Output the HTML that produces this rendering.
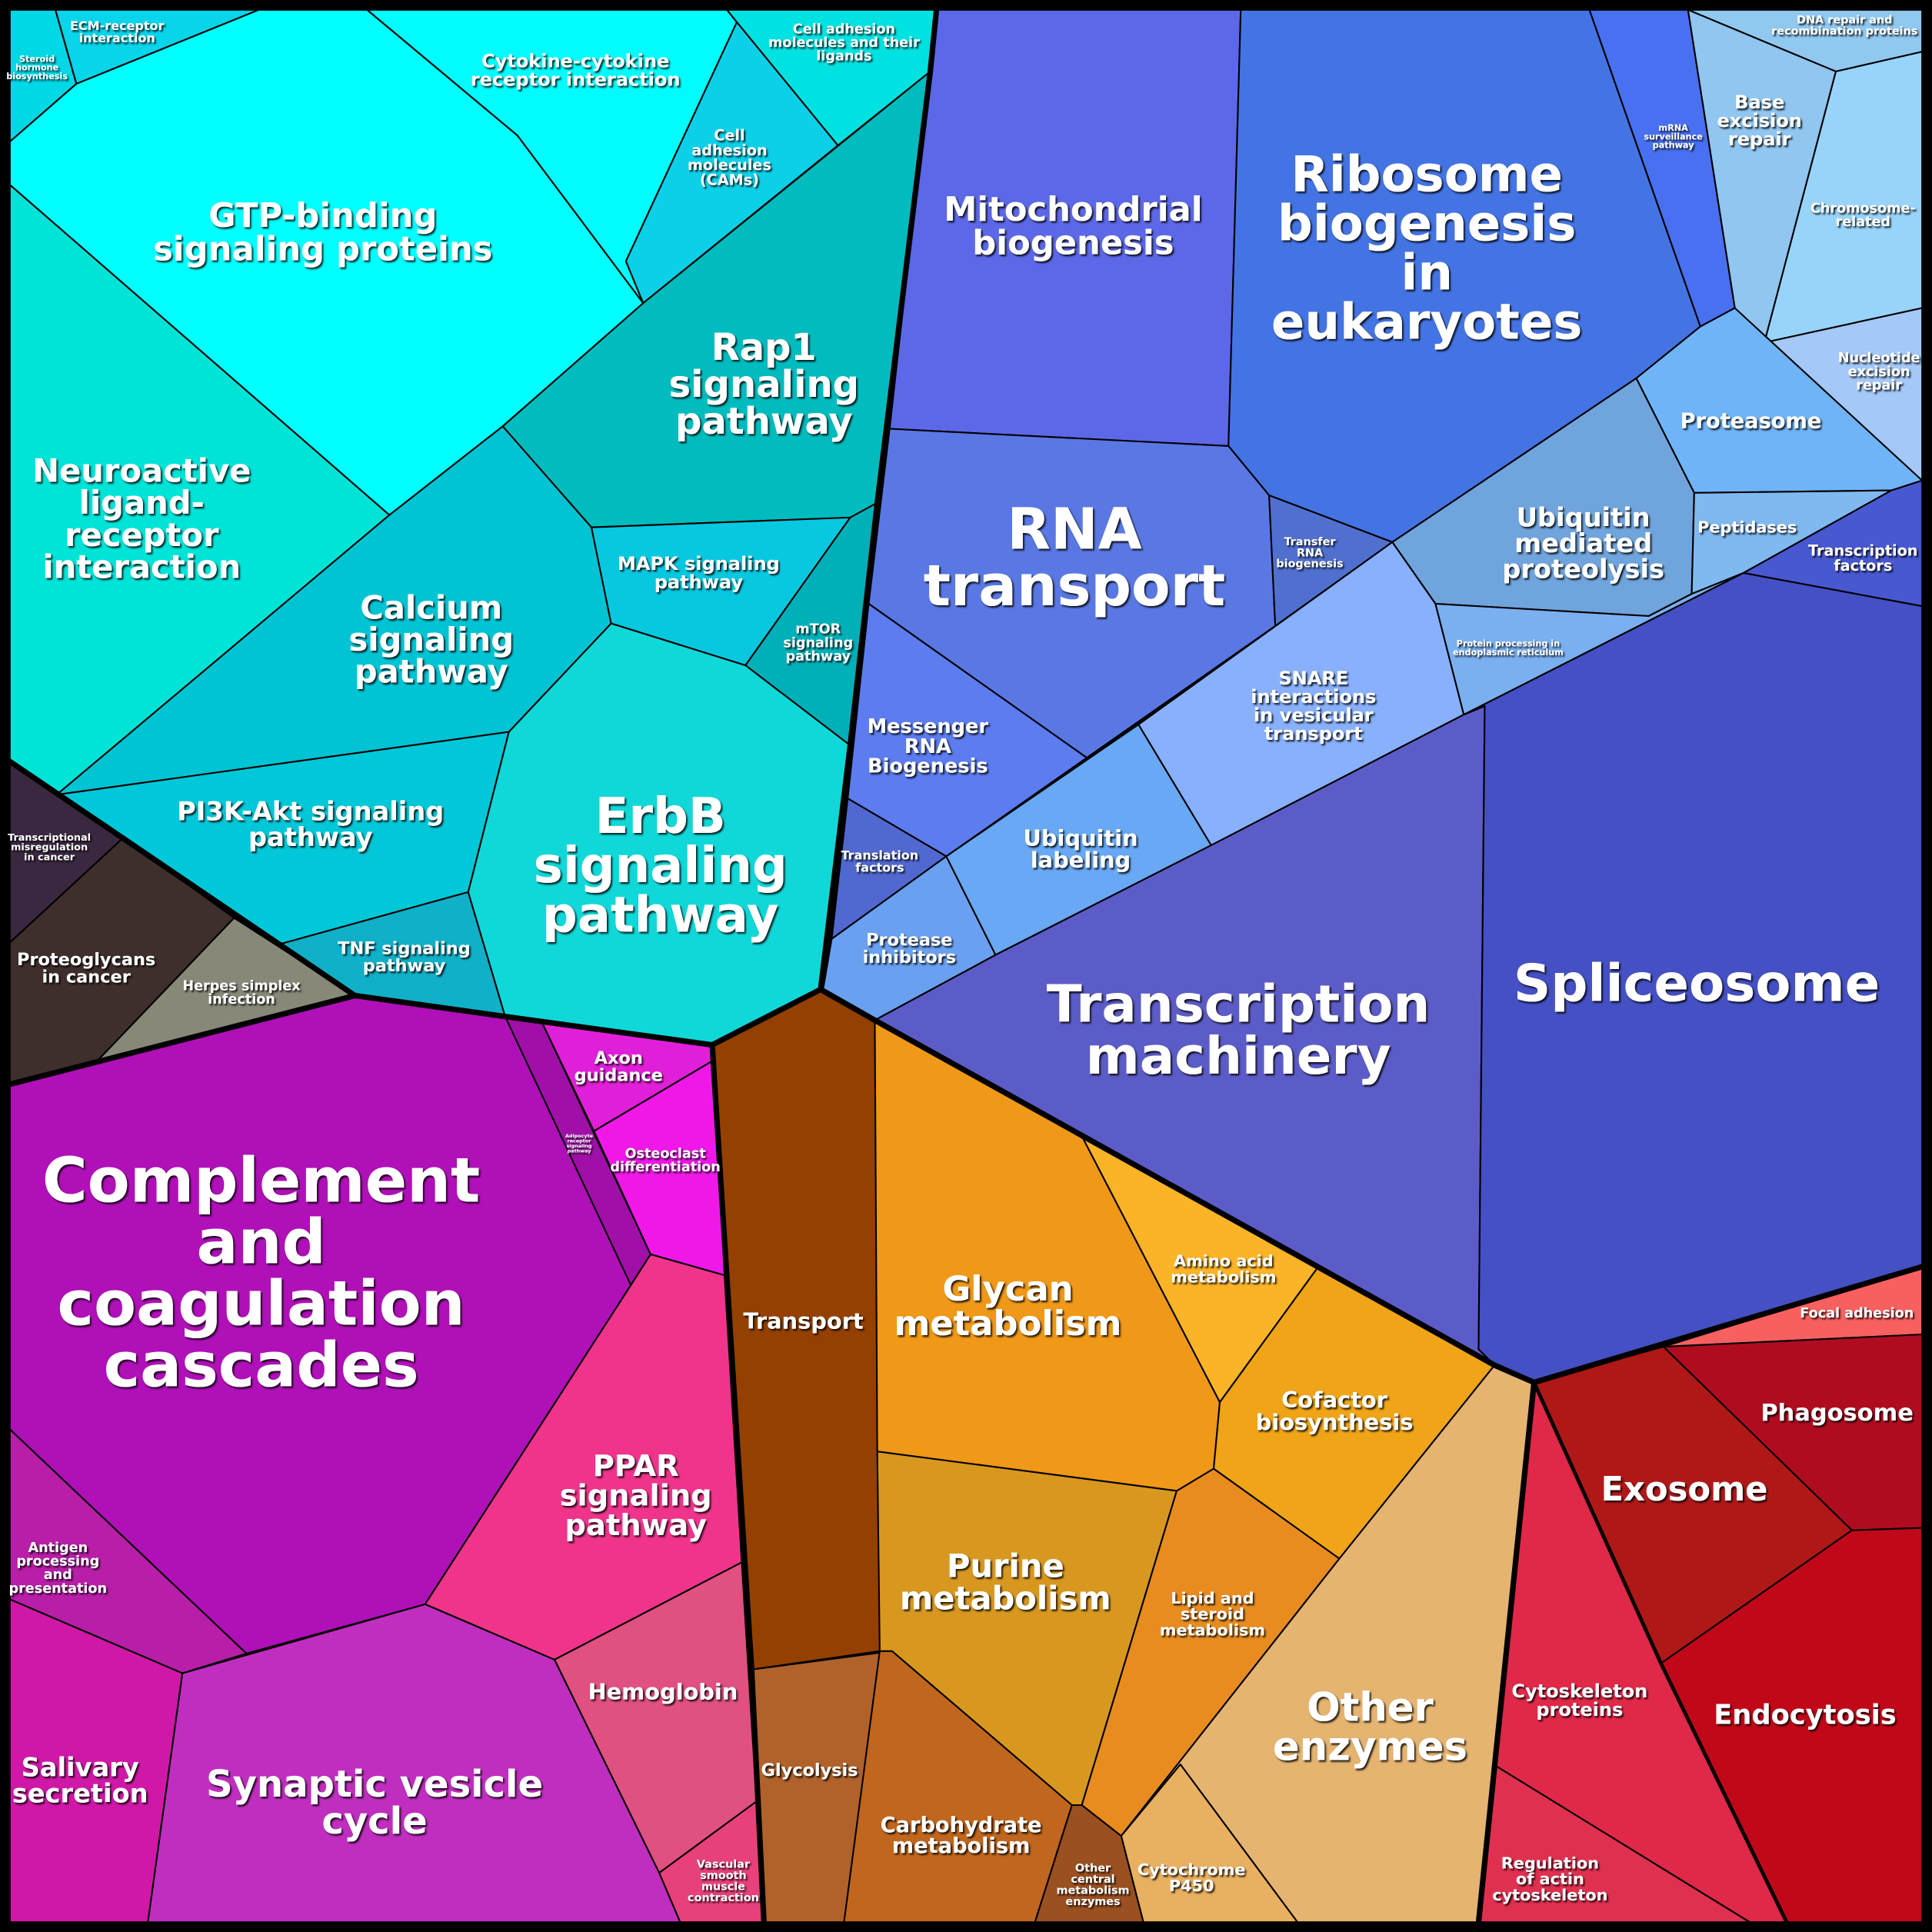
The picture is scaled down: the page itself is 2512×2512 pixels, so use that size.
<!DOCTYPE html>
<html><head><meta charset="utf-8"><style>
html,body{margin:0;padding:0;background:#000;}
svg{display:block;}
text{font-family:"DejaVu Sans","Liberation Sans",sans-serif;font-weight:bold;fill:#fff;text-anchor:middle;}
tspan{dominant-baseline:central;}
polygon{stroke:#000;stroke-width:1.3;stroke-linejoin:round;}
.g{fill:none;stroke:#000;stroke-width:4.5;stroke-linejoin:round;stroke-linecap:round;}
</style></head><body>
<svg width="2512" height="2512" viewBox="0 0 1568 1568" xmlns="http://www.w3.org/2000/svg">
<defs><filter id="sh" x="-10%" y="-10%" width="120%" height="130%"><feDropShadow dx="1.2" dy="1.4" stdDeviation="0.6" flood-color="#000" flood-opacity="0.85"/></filter></defs>
<rect width="1568" height="1568" fill="#000"/>
<!-- cyan group -->
<polygon fill="#00d8e6" points="8,8 45,8 62,68 8,115"/>
<polygon fill="#08d4ea" points="45,8 210,8 62,68"/>
<polygon fill="#00ffff" points="62,68 210,8 298,8 420,110 522,246 408,346 316,418 8,150 8,115"/>
<polygon fill="#00fcfc" points="298,8 590,8 598,18 508,212 522,246 420,110"/>
<polygon fill="#00e2e2" points="590,8 760,8 755,58 680,118 598,18"/>
<polygon fill="#0cd0e8" points="598,18 680,118 522,246 508,212"/>
<polygon fill="#00e4d8" points="8,150 316,418 46,645 8,618"/>
<polygon fill="#00bcbe" points="522,246 755,58 712,408 690,420 480,428 408,346"/>
<polygon fill="#00c4d4" points="408,346 480,428 496,506 413,594 46,645 316,418"/>
<polygon fill="#08c8e0" points="480,428 690,420 605,540 496,506"/>
<polygon fill="#00b0b8" points="690,420 712,408 690,605 605,540"/>
<polygon fill="#00c8d8" points="46,645 413,594 380,724 228,766"/>
<polygon fill="#10b0c8" points="228,766 380,724 410,825 288,808"/>
<polygon fill="#10d8d8" points="413,594 496,506 605,540 690,605 666,803 578,848 440,830 410,825 380,724"/>
<!-- dark group -->
<polygon fill="#3a2840" points="8,618 100,680 8,765"/>
<polygon fill="#3e2e2c" points="8,765 100,680 190,745 78,862 8,880"/>
<polygon fill="#888878" points="190,745 288,808 78,862"/>
<!-- purple group -->
<polygon fill="#b010b8" points="8,880 78,862 288,808 410,825 512,1043 345,1302 200,1342 8,1160"/>
<polygon fill="#a010a8" points="410,825 440,830 528,1018 512,1043"/>
<polygon fill="#e020d8" points="440,830 578,848 580,860 482,918"/>
<polygon fill="#f018e8" points="482,918 580,860 588,1035 528,1018"/>
<polygon fill="#f0348c" points="528,1018 588,1035 602,1268 450,1347 345,1302 512,1043"/>
<polygon fill="#e05080" points="450,1347 602,1268 614,1462 535,1520"/>
<polygon fill="#e8407a" points="535,1520 614,1462 620,1560 552,1560"/>
<polygon fill="#c02ec0" points="148,1358 345,1302 450,1347 535,1520 552,1560 120,1560"/>
<polygon fill="#b81ea8" points="8,1160 200,1342 148,1358 8,1298"/>
<polygon fill="#d018a8" points="8,1298 148,1358 120,1560 8,1560"/>
<!-- orange group -->
<polygon fill="#944000" points="578,848 666,803 710,828 714,1340 610,1355"/>
<polygon fill="#b0622a" points="610,1355 724,1340 685,1560 620,1560"/>
<polygon fill="#c0661e" points="714,1340 724,1340 870,1465 840,1560 685,1560"/>
<polygon fill="#9a5020" points="870,1465 878,1465 910,1490 928,1560 840,1560"/>
<polygon fill="#f09818" points="710,828 878,922 990,1138 985,1192 955,1210 712,1178"/>
<polygon fill="#fbb428" points="878,922 1070,1028 990,1138"/>
<polygon fill="#f0a418" points="990,1138 1070,1028 1213,1108 1087,1265 985,1192"/>
<polygon fill="#d89820" points="712,1178 955,1210 878,1465 870,1465 724,1340 714,1340"/>
<polygon fill="#e88c20" points="955,1210 985,1192 1087,1265 910,1490 878,1465"/>
<polygon fill="#e4b470" points="1213,1108 1245,1122 1200,1560 1053,1560 958,1432 910,1490 1087,1265"/>
<polygon fill="#e8b060" points="958,1432 1053,1560 928,1560 910,1490"/>
<!-- blue group -->
<polygon fill="#5c68e8" points="760,8 1007,8 997,362 722,348"/>
<polygon fill="#4474e4" points="1007,8 1290,8 1380,265 1328,307 1130,440 1030,402 997,362"/>
<polygon fill="#4870f0" points="1290,8 1370,8 1408,250 1380,265"/>
<polygon fill="#90c8f0" points="1370,8 1560,8 1560,42 1490,58"/>
<polygon fill="#90c6f0" points="1370,8 1490,58 1432,278 1408,250"/>
<polygon fill="#98d4fa" points="1490,58 1560,42 1560,250 1432,278"/>
<polygon fill="#a4c8f8" points="1432,278 1560,250 1560,390"/>
<polygon fill="#70b4f8" points="1380,265 1408,250 1560,390 1535,398 1375,400 1328,307"/>
<polygon fill="#5a78e4" points="722,348 997,362 1030,402 1035,508 882,615 705,490"/>
<polygon fill="#5070d0" points="1030,402 1130,440 1035,508"/>
<polygon fill="#70a4dc" points="1130,440 1328,307 1375,400 1373,482 1338,500 1165,490"/>
<polygon fill="#80b8f0" points="1375,400 1535,398 1415,465 1373,482"/>
<polygon fill="#4858d0" points="1535,398 1560,390 1560,492 1415,465"/>
<polygon fill="#5c7cf0" points="705,490 882,615 768,695 688,648"/>
<polygon fill="#5068d0" points="688,648 768,695 675,762"/>
<polygon fill="#6aa0f0" points="675,762 768,695 808,775 710,828 668,803"/>
<polygon fill="#68a8f4" points="768,695 924,588 983,686 808,775"/>
<polygon fill="#88b0fc" points="924,588 1130,440 1165,490 1188,580 983,686"/>
<polygon fill="#7ab0f0" points="1165,490 1338,500 1373,482 1415,465 1188,580"/>
<polygon fill="#5c5cc8" points="710,828 808,775 983,686 1188,580 1205,573 1200,1095 1213,1108"/>
<polygon fill="#4450c4" points="1188,580 1415,465 1560,492 1560,1028 1245,1122 1213,1108 1200,1095 1205,573"/>
<!-- red group -->
<polygon fill="#f86060" points="1350,1093 1560,1028 1560,1083"/>
<polygon fill="#b00c20" points="1350,1093 1560,1083 1560,1240 1503,1242"/>
<polygon fill="#b01818" points="1245,1122 1350,1093 1503,1242 1348,1350"/>
<polygon fill="#e02848" points="1245,1122 1348,1350 1450,1560 1420,1560 1212,1432"/>
<polygon fill="#e03050" points="1212,1432 1420,1560 1200,1560"/>
<polygon fill="#c00818" points="1348,1350 1503,1242 1560,1240 1560,1560 1450,1560"/>
<!-- group boundaries -->
<polyline class="g" points="760,8 755,58 712,408 690,605 666,803"/>
<polyline class="g" points="8,618 288,808 8,880"/>
<polyline class="g" points="288,808 410,825 578,848 666,803 710,828"/>
<polyline class="g" points="578,848 610,1355 620,1560"/>
<polyline class="g" points="710,828 1213,1108 1245,1122 1560,1028"/>
<polyline class="g" points="1245,1122 1200,1560"/>
<polyline class="g" style="stroke-width:3" points="1245,1122 1348,1350 1450,1560"/>
<rect x="4" y="4" width="1560" height="1560" fill="none" stroke="#000" stroke-width="8"/>
<g filter="url(#sh)">
<text font-size="7" y="48"><tspan x="30" dy="0">Steroid</tspan><tspan x="30" dy="1em">hormone</tspan><tspan x="30" dy="1em">biosynthesis</tspan></text>
<text font-size="10" y="21"><tspan x="95" dy="0">ECM-receptor</tspan><tspan x="95" dy="1em">interaction</tspan></text>
<text font-size="15" y="49.5"><tspan x="467" dy="0">Cytokine-cytokine</tspan><tspan x="467" dy="1em">receptor interaction</tspan></text>
<text font-size="11" y="24"><tspan x="685" dy="0">Cell adhesion</tspan><tspan x="685" dy="1em">molecules and their</tspan><tspan x="685" dy="1em">ligands</tspan></text>
<text font-size="12" y="110"><tspan x="592" dy="0">Cell</tspan><tspan x="592" dy="1em">adhesion</tspan><tspan x="592" dy="1em">molecules</tspan><tspan x="592" dy="1em">(CAMs)</tspan></text>
<text font-size="27" y="175.5"><tspan x="262" dy="0">GTP-binding</tspan><tspan x="262" dy="1em">signaling proteins</tspan></text>
<text font-size="26" y="382"><tspan x="115" dy="0">Neuroactive</tspan><tspan x="115" dy="1em">ligand-</tspan><tspan x="115" dy="1em">receptor</tspan><tspan x="115" dy="1em">interaction</tspan></text>
<text font-size="30" y="282"><tspan x="620" dy="0">Rap1</tspan><tspan x="620" dy="1em">signaling</tspan><tspan x="620" dy="1em">pathway</tspan></text>
<text font-size="26" y="493"><tspan x="350" dy="0">Calcium</tspan><tspan x="350" dy="1em">signaling</tspan><tspan x="350" dy="1em">pathway</tspan></text>
<text font-size="15" y="457.5"><tspan x="567" dy="0">MAPK signaling</tspan><tspan x="567" dy="1em">pathway</tspan></text>
<text font-size="11" y="511"><tspan x="664" dy="0">mTOR</tspan><tspan x="664" dy="1em">signaling</tspan><tspan x="664" dy="1em">pathway</tspan></text>
<text font-size="21" y="658.5"><tspan x="252" dy="0">PI3K-Akt signaling</tspan><tspan x="252" dy="1em">pathway</tspan></text>
<text font-size="14" y="770"><tspan x="328" dy="0">TNF signaling</tspan><tspan x="328" dy="1em">pathway</tspan></text>
<text font-size="40" y="663"><tspan x="536" dy="0">ErbB</tspan><tspan x="536" dy="1em">signaling</tspan><tspan x="536" dy="1em">pathway</tspan></text>
<text font-size="8" y="680"><tspan x="40" dy="0">Transcriptional</tspan><tspan x="40" dy="1em">misregulation</tspan><tspan x="40" dy="1em">in cancer</tspan></text>
<text font-size="14" y="779"><tspan x="70" dy="0">Proteoglycans</tspan><tspan x="70" dy="1em">in cancer</tspan></text>
<text font-size="11" y="800.5"><tspan x="196" dy="0">Herpes simplex</tspan><tspan x="196" dy="1em">infection</tspan></text>
<text font-size="50" y="958"><tspan x="212" dy="0">Complement</tspan><tspan x="212" dy="1em">and</tspan><tspan x="212" dy="1em">coagulation</tspan><tspan x="212" dy="1em">cascades</tspan></text>
<text font-size="4" y="922"><tspan x="470" dy="0">Adipocyte</tspan><tspan x="470" dy="1em">receptor</tspan><tspan x="470" dy="1em">signaling</tspan><tspan x="470" dy="1em">pathway</tspan></text>
<text font-size="14" y="859"><tspan x="502" dy="0">Axon</tspan><tspan x="502" dy="1em">guidance</tspan></text>
<text font-size="11" y="936.5"><tspan x="540" dy="0">Osteoclast</tspan><tspan x="540" dy="1em">differentiation</tspan></text>
<text font-size="24" y="1190"><tspan x="516" dy="0">PPAR</tspan><tspan x="516" dy="1em">signaling</tspan><tspan x="516" dy="1em">pathway</tspan></text>
<text font-size="18" y="1373"><tspan x="538" dy="0">Hemoglobin</tspan></text>
<text font-size="9" y="1513.5"><tspan x="587" dy="0">Vascular</tspan><tspan x="587" dy="1em">smooth</tspan><tspan x="587" dy="1em">muscle</tspan><tspan x="587" dy="1em">contraction</tspan></text>
<text font-size="11" y="1256.5"><tspan x="47" dy="0">Antigen</tspan><tspan x="47" dy="1em">processing</tspan><tspan x="47" dy="1em">and</tspan><tspan x="47" dy="1em">presentation</tspan></text>
<text font-size="21" y="1434.5"><tspan x="65" dy="0">Salivary</tspan><tspan x="65" dy="1em">secretion</tspan></text>
<text font-size="30" y="1448"><tspan x="304" dy="0">Synaptic vesicle</tspan><tspan x="304" dy="1em">cycle</tspan></text>
<text font-size="18" y="1072"><tspan x="652" dy="0">Transport</tspan></text>
<text font-size="14" y="1437"><tspan x="657" dy="0">Glycolysis</tspan></text>
<text font-size="17" y="1481.5"><tspan x="780" dy="0">Carbohydrate</tspan><tspan x="780" dy="1em">metabolism</tspan></text>
<text font-size="9" y="1516.5"><tspan x="887" dy="0">Other</tspan><tspan x="887" dy="1em">central</tspan><tspan x="887" dy="1em">metabolism</tspan><tspan x="887" dy="1em">enzymes</tspan></text>
<text font-size="28" y="1046"><tspan x="818" dy="0">Glycan</tspan><tspan x="818" dy="1em">metabolism</tspan></text>
<text font-size="13" y="1023.5"><tspan x="993" dy="0">Amino acid</tspan><tspan x="993" dy="1em">metabolism</tspan></text>
<text font-size="18" y="1136"><tspan x="1083" dy="0">Cofactor</tspan><tspan x="1083" dy="1em">biosynthesis</tspan></text>
<text font-size="26" y="1271"><tspan x="816" dy="0">Purine</tspan><tspan x="816" dy="1em">metabolism</tspan></text>
<text font-size="13" y="1297"><tspan x="984" dy="0">Lipid and</tspan><tspan x="984" dy="1em">steroid</tspan><tspan x="984" dy="1em">metabolism</tspan></text>
<text font-size="32" y="1386"><tspan x="1112" dy="0">Other</tspan><tspan x="1112" dy="1em">enzymes</tspan></text>
<text font-size="13" y="1517.5"><tspan x="967" dy="0">Cytochrome</tspan><tspan x="967" dy="1em">P450</tspan></text>
<text font-size="27" y="170.5"><tspan x="871" dy="0">Mitochondrial</tspan><tspan x="871" dy="1em">biogenesis</tspan></text>
<text font-size="40" y="142"><tspan x="1158" dy="0">Ribosome</tspan><tspan x="1158" dy="1em">biogenesis</tspan><tspan x="1158" dy="1em">in</tspan><tspan x="1158" dy="1em">eukaryotes</tspan></text>
<text font-size="7" y="104"><tspan x="1358" dy="0">mRNA</tspan><tspan x="1358" dy="1em">surveillance</tspan><tspan x="1358" dy="1em">pathway</tspan></text>
<text font-size="9" y="16.5"><tspan x="1497" dy="0">DNA repair and</tspan><tspan x="1497" dy="1em">recombination proteins</tspan></text>
<text font-size="15" y="83"><tspan x="1428" dy="0">Base</tspan><tspan x="1428" dy="1em">excision</tspan><tspan x="1428" dy="1em">repair</tspan></text>
<text font-size="11" y="169.5"><tspan x="1512" dy="0">Chromosome-</tspan><tspan x="1512" dy="1em">related</tspan></text>
<text font-size="11" y="291"><tspan x="1525" dy="0">Nucleotide</tspan><tspan x="1525" dy="1em">excision</tspan><tspan x="1525" dy="1em">repair</tspan></text>
<text font-size="17" y="342"><tspan x="1421" dy="0">Proteasome</tspan></text>
<text font-size="46" y="430"><tspan x="872" dy="0">RNA</tspan><tspan x="872" dy="1em">transport</tspan></text>
<text font-size="9" y="440"><tspan x="1063" dy="0">Transfer</tspan><tspan x="1063" dy="1em">RNA</tspan><tspan x="1063" dy="1em">biogenesis</tspan></text>
<text font-size="21" y="420"><tspan x="1285" dy="0">Ubiquitin</tspan><tspan x="1285" dy="1em">mediated</tspan><tspan x="1285" dy="1em">proteolysis</tspan></text>
<text font-size="13" y="428"><tspan x="1418" dy="0">Peptidases</tspan></text>
<text font-size="12" y="447"><tspan x="1512" dy="0">Transcription</tspan><tspan x="1512" dy="1em">factors</tspan></text>
<text font-size="16" y="590"><tspan x="753" dy="0">Messenger</tspan><tspan x="753" dy="1em">RNA</tspan><tspan x="753" dy="1em">Biogenesis</tspan></text>
<text font-size="10" y="694"><tspan x="714" dy="0">Translation</tspan><tspan x="714" dy="1em">factors</tspan></text>
<text font-size="14" y="763"><tspan x="738" dy="0">Protease</tspan><tspan x="738" dy="1em">inhibitors</tspan></text>
<text font-size="18" y="680"><tspan x="877" dy="0">Ubiquitin</tspan><tspan x="877" dy="1em">labeling</tspan></text>
<text font-size="15" y="550.5"><tspan x="1066" dy="0">SNARE</tspan><tspan x="1066" dy="1em">interactions</tspan><tspan x="1066" dy="1em">in vesicular</tspan><tspan x="1066" dy="1em">transport</tspan></text>
<text font-size="7" y="522.5"><tspan x="1224" dy="0">Protein processing in</tspan><tspan x="1224" dy="1em">endoplasmic reticulum</tspan></text>
<text font-size="42" y="815"><tspan x="1005" dy="0">Transcription</tspan><tspan x="1005" dy="1em">machinery</tspan></text>
<text font-size="42" y="798"><tspan x="1377" dy="0">Spliceosome</tspan></text>
<text font-size="11" y="1066"><tspan x="1507" dy="0">Focal adhesion</tspan></text>
<text font-size="19" y="1147"><tspan x="1491" dy="0">Phagosome</tspan></text>
<text font-size="27" y="1209"><tspan x="1367" dy="0">Exosome</tspan></text>
<text font-size="22" y="1392"><tspan x="1465" dy="0">Endocytosis</tspan></text>
<text font-size="15" y="1372.5"><tspan x="1282" dy="0">Cytoskeleton</tspan><tspan x="1282" dy="1em">proteins</tspan></text>
<text font-size="13" y="1512"><tspan x="1258" dy="0">Regulation</tspan><tspan x="1258" dy="1em">of actin</tspan><tspan x="1258" dy="1em">cytoskeleton</tspan></text>
</g>
</svg>
</body></html>
